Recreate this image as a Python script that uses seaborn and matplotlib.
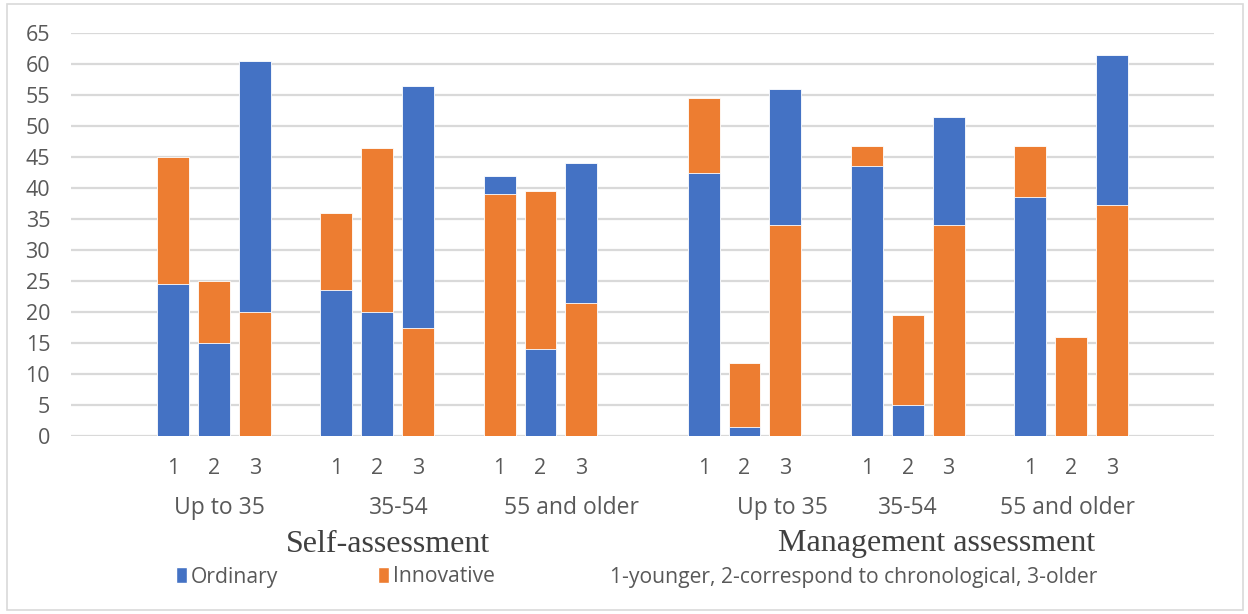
import matplotlib
matplotlib.use("Agg")
import matplotlib.pyplot as plt
from matplotlib.patches import Patch, Rectangle
import matplotlib.transforms as mtransforms
import numpy as np
import pandas as pd
import seaborn as sns

# Survey shares (%) by age group and subjective-age type (1-younger, 2-same, 3-older)
assessments = ["Self-assessment", "Management assessment"]
age_groups = ["Up to 35", "35-54", "55 and older"]
age_types = ["1", "2", "3"]

ordinary = [
    24.5, 15.0, 60.5,   # self, up to 35
    23.5, 20.0, 56.5,   # self, 35-54
    42.0, 14.0, 44.0,   # self, 55 and older
    42.5, 1.5, 56.0,    # management, up to 35
    43.5, 5.0, 51.5,    # management, 35-54
    38.5, 0.0, 61.5,    # management, 55 and older
]
innovative = [
    45.0, 25.0, 20.0,
    36.0, 46.5, 17.5,
    39.0, 39.5, 21.5,
    54.5, 11.7, 34.0,
    46.7, 19.5, 34.0,
    46.7, 16.0, 37.3,
]

BLUE = "#4472C4"
ORANGE = "#ED7D31"
GRID = "#D9D9D9"
TXT = "#595959"

sns.set_theme(style="white")
plt.rcParams["font.family"] = ["Open Sans", "DejaVu Sans"]

# slot layout: each age group takes 3 bar slots + 1 gap, extra gap between assessments
group_starts = [2.5, 6.5, 10.5, 15.5, 19.5, 23.5]
pos = np.array([s + k for s in group_starts for k in range(3)], dtype=float)

df = pd.DataFrame({"pos": pos, "Ordinary": ordinary, "Innovative": innovative})

fig = plt.figure(figsize=(12.48, 6.14), dpi=100)
ax = fig.add_axes([71 / 1248, 1 - 436 / 614, (1214 - 71) / 1248, (436 - 33) / 614])

sns.barplot(data=df, x="pos", y="Ordinary", native_scale=True, orient="x",
            color=BLUE, saturation=1, width=0.78, errorbar=None, ax=ax,
            edgecolor="white", linewidth=0.6)
n = len(ax.patches)
sns.barplot(data=df, x="pos", y="Innovative", native_scale=True, orient="x",
            color=ORANGE, saturation=1, width=0.78, errorbar=None, ax=ax,
            edgecolor="white", linewidth=0.6)

# both series start at zero: the shorter bar of each pair sits in front
blue_bars = ax.patches[:n]
orange_bars = ax.patches[n:]
for b, o in zip(blue_bars, orange_bars):
    if b.get_height() <= o.get_height():
        b.set_zorder(3); o.set_zorder(2)
    else:
        b.set_zorder(2); o.set_zorder(3)

ax.set_xlim(0, 28)
ax.set_ylim(0, 65)
ax.set_yticks(np.arange(0, 66, 5))
ax.yaxis.grid(True, color=GRID, linewidth=1.6)
ax.set_axisbelow(True)
for s in ax.spines.values():
    s.set_visible(False)
ax.set_xlabel("")
ax.set_ylabel("")
ax.set_xticks(pos)
ax.set_xticklabels(age_types * 6)
ax.tick_params(axis="x", length=0, pad=16, labelsize=15.5, labelcolor=TXT)
ax.tick_params(axis="y", length=0, pad=15, labelsize=15.5, labelcolor=TXT)

# age-group labels under each triplet
trans = mtransforms.blended_transform_factory(ax.transData, fig.transFigure)
label_x = [3.63, 8.03, 12.25, 17.42, 20.5, 24.42]
for x, name in zip(label_x, age_groups * 2):
    ax.text(x, 1 - 508 / 614, name, transform=trans, ha="center", va="center",
            fontsize=16.5, color=TXT)

# assessment labels
for x, name in zip([388, 937], assessments):
    fig.text(x / 1248, 1 - 544 / 614, name, ha="center", va="center",
             fontsize=23, color="#404040", family=["Liberation Serif", "DejaVu Serif"])

# legend
handles = [Patch(facecolor=BLUE), Patch(facecolor=ORANGE),
           Patch(facecolor="none", edgecolor="none")]
labels = ["Ordinary", "Innovative", "1-younger, 2-correspond to chronological, 3-older"]
fig.legend(handles, labels, ncol=3, loc="center left",
           bbox_to_anchor=(157 / 1248, 1 - 577 / 614), frameon=False,
           fontsize=15.2, labelcolor=TXT, handlelength=0.5, handleheight=0.75,
           handletextpad=0.2, columnspacing=4.75)

# chart-area border
fig.patches.append(Rectangle((7 / 1248, 4 / 614), 1236 / 1248, 606 / 614,
                             transform=fig.transFigure, fill=False,
                             edgecolor=GRID, linewidth=1.2))

fig.savefig("out.png", dpi=100, facecolor="white")
